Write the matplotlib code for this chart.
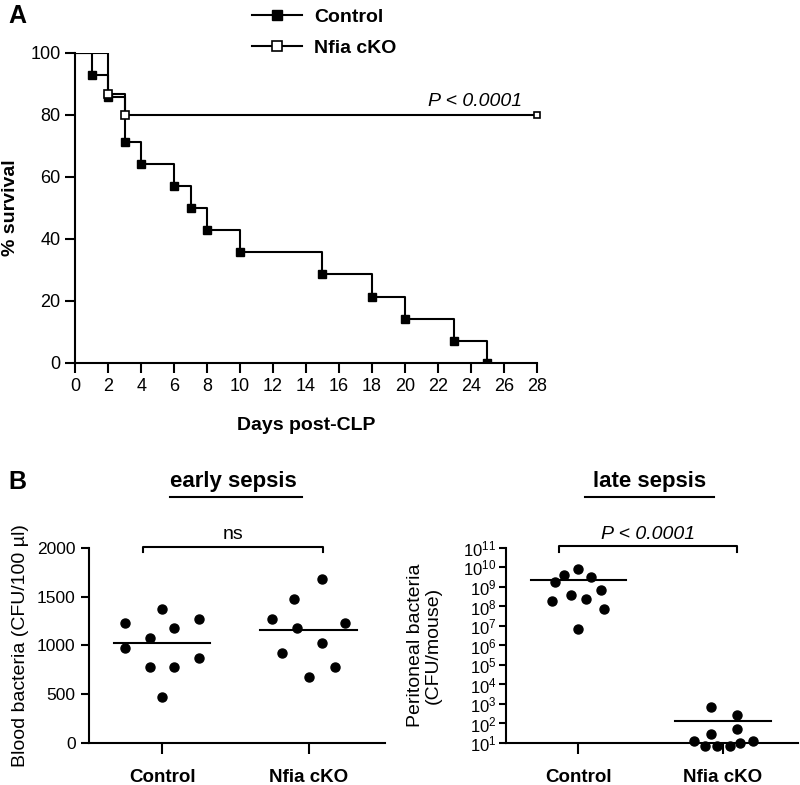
import numpy as np
import matplotlib
matplotlib.use("Agg")
import matplotlib.pyplot as plt
from matplotlib.lines import Line2D

plt.rcParams['font.family'] = ['Liberation Sans', 'DejaVu Sans']
plt.rcParams['axes.linewidth'] = 1.5

# Panel A: Kaplan-Meier survival after CLP
ctrl_days = [0, 1, 2, 3, 4, 6, 7, 8, 10, 15, 18, 20, 23, 25]
ctrl_surv = [100, 92.9, 85.7, 71.4, 64.3, 57.1, 50, 42.9, 35.7, 28.6, 21.4, 14.3, 7.1, 0]
ko_days = [0, 2, 3, 28]
ko_surv = [100, 86.7, 80, 80]
survival_ticks_x = list(range(0, 29, 2))

# Panel B left: blood bacteria, early sepsis (CFU/100 ul)
groups = ['Control', 'Nfia cKO']
blood_ctrl = [1228, 978, 1074, 777, 1378, 475, 1177, 777, 1275, 875]
blood_ctrl_dx = [-0.25, -0.25, -0.08, -0.08, 0, 0, 0.08, 0.08, 0.25, 0.25]
blood_ctrl_mean = 1023
blood_ko = [1275, 926, 1474, 1177, 674, 1682, 1026, 777, 1228]
blood_ko_dx = [-0.25, -0.18, -0.1, -0.08, 0, 0.09, 0.09, 0.18, 0.25]
blood_ko_mean = 1159

# Panel B right: peritoneal bacteria, late sepsis (CFU/mouse)
perit_ctrl = [1.7e9, 1.8e8, 4e9, 3.7e8, 8.7e9, 7.2e6, 2.3e8, 3.2e9, 7.2e8, 7.4e7]
perit_ctrl_dx = [-0.16, -0.18, -0.1, -0.05, 0, 0, 0.05, 0.09, 0.16, 0.18]
perit_ctrl_mean = 2.2e9
perit_ko = [13, 7, 680, 29, 7, 7, 280, 54, 10, 13]
perit_ko_dx = [-0.2, -0.12, -0.08, -0.08, -0.04, 0.05, 0.1, 0.1, 0.12, 0.21]
perit_ko_mean = 135

fig = plt.figure(figsize=(8, 7.85), dpi=100)

# ---------- Panel A ----------
axA = fig.add_axes([0.094, 0.5376, 0.577, 0.395])
axA.step(ctrl_days, ctrl_surv, where='post', color='black', lw=1.5)
axA.plot(ctrl_days[1:], ctrl_surv[1:], 's', color='black', ms=5.5)
axA.step(ko_days, ko_surv, where='post', color='black', lw=1.5)
axA.plot(ko_days[1:3], ko_surv[1:3], 's', mfc='white', mec='black', mew=1.2, ms=6)
axA.plot(ko_days[-1:], ko_surv[-1:], 's', mfc='white', mec='black', mew=1.2, ms=4,
         clip_on=False)
axA.set_xlim(0, 28)
axA.set_ylim(0, 100)
axA.set_xticks(survival_ticks_x)
axA.set_yticks(range(0, 101, 20))
axA.spines['top'].set_visible(False)
axA.spines['right'].set_visible(False)
axA.tick_params(labelsize=13, width=1.5, length=7, direction='out')
axA.set_xlabel('Days post-CLP', fontsize=14, fontweight='bold', labelpad=16)
axA.set_ylabel('% survival', fontsize=14, fontweight='bold', labelpad=8)
axA.text(27.1, 81.5, 'P < 0.0001', ha='right', va='bottom', fontsize=14, style='italic')

handles = [
    Line2D([], [], color='black', lw=1.5, marker='s', ms=7, mfc='black'),
    Line2D([], [], color='black', lw=1.5, marker='s', ms=7, mfc='white', mew=1.2),
]
fig.legend(handles, ['Control', 'Nfia cKO'], loc='upper left',
           bbox_to_anchor=(0.293, 1.012), frameon=False, handlelength=2.6,
           prop={'weight': 'bold', 'size': 14}, labelspacing=0.72, handletextpad=0.6)

fig.text(0.01, 0.98, 'A', fontsize=18, fontweight='bold', ha='left', va='center')
fig.text(0.01, 0.386, 'B', fontsize=18, fontweight='bold', ha='left', va='center')


def dot_panel(ax, vals_list, dx_list, means):
    for i, (vals, dx) in enumerate(zip(vals_list, dx_list)):
        ax.plot(np.array(dx) + i, vals, 'o', color='black', ms=6.5, clip_on=False)
        ax.plot([i - 0.33, i + 0.33], [means[i], means[i]], color='black', lw=1.5)
    ax.set_xlim(-0.5, 1.52)
    ax.set_xticks([0, 1])
    ax.set_xticklabels(groups, fontsize=13.5, fontweight='bold')
    ax.spines['top'].set_visible(False)
    ax.spines['right'].set_visible(False)
    ax.tick_params(axis='y', labelsize=12.5, width=1.5, length=6)
    ax.tick_params(axis='x', width=1.5, length=8, pad=11)


# ---------- Panel B left ----------
axB1 = fig.add_axes([0.111, 0.0535, 0.37, 0.2485])
dot_panel(axB1, [blood_ctrl, blood_ko], [blood_ctrl_dx, blood_ko_dx],
          [blood_ctrl_mean, blood_ko_mean])
axB1.set_ylim(0, 2000)
axB1.set_yticks(range(0, 2001, 500))
axB1.set_ylabel('Blood bacteria (CFU/100 \u00b5l)', fontsize=14, labelpad=6)
axB1.plot([-0.13, -0.13, 1.1, 1.1], [1960, 2010, 2010, 1960], color='black', lw=1.5,
          clip_on=False)
axB1.text(0.485, 2050, 'ns', ha='center', va='bottom', fontsize=14)
axB1.text(0.49, 1.34, 'early sepsis', transform=axB1.transAxes, ha='center',
          va='center', fontsize=16, fontweight='bold')
axB1.plot([0.274, 0.72], [1.26, 1.26], transform=axB1.transAxes, color='black',
          lw=1.5, clip_on=False)

# ---------- Panel B right ----------
axB2 = fig.add_axes([0.6325, 0.0535, 0.365, 0.2485])
axB2.set_yscale('log')
dot_panel(axB2, [perit_ctrl, perit_ko], [perit_ctrl_dx, perit_ko_dx],
          [perit_ctrl_mean, perit_ko_mean])
axB2.set_ylim(10, 1e11)
decades = [10.0 ** k for k in range(1, 12)]
axB2.set_yticks(decades)
axB2.set_yticklabels([r'$\mathregular{10^{%d}}$' % k for k in range(1, 12)])
axB2.minorticks_off()
axB2.tick_params(axis='y', labelsize=12, length=5, pad=2)
axB2.set_ylabel('Peritoneal bacteria\n(CFU/mouse)', fontsize=14, labelpad=15,
                linespacing=1.1)
axB2.plot([-0.13, -0.13, 1.1, 1.1], [6e10, 1.2e11, 1.2e11, 6e10], color='black',
          lw=1.5, clip_on=False)
axB2.text(0.485, 1.7e11, 'P < 0.0001', ha='center', va='bottom', fontsize=14,
          style='italic')
axB2.text(0.49, 1.34, 'late sepsis', transform=axB2.transAxes, ha='center',
          va='center', fontsize=16, fontweight='bold')
axB2.plot([0.27, 0.712], [1.26, 1.26], transform=axB2.transAxes, color='black',
          lw=1.5, clip_on=False)

fig.savefig('out.png', dpi=100)
